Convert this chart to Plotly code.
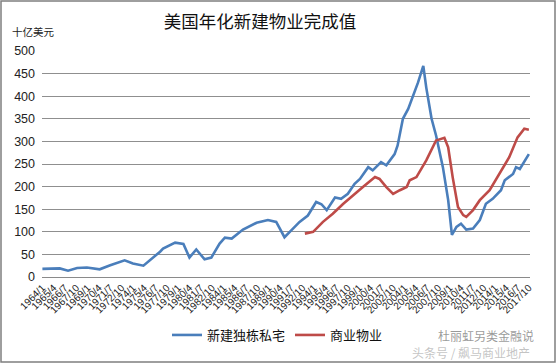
import plotly.graph_objects as go

# 新建独栋私宅 (single-family) readings
house_dates = ["1964-01", "1965-04", "1965-12", "1966-11", "1967-11", "1968-12", "1970-05", "1971-07",
               "1973-02", "1974-01", "1975-03", "1977-01", "1977-05", "1978-09", "1979-08", "1980-04",
               "1981-01", "1981-12", "1982-09", "1983-08", "1984-03", "1984-12", "1986-03", "1987-09",
               "1988-12", "1989-11", "1990-10", "1991-07", "1992-06", "1993-05", "1994-04", "1994-11",
               "1995-06", "1996-05", "1997-01", "1997-10", "1998-07", "1999-02", "2000-01", "2000-07",
               "2001-06", "2002-01", "2002-12", "2003-04", "2003-11", "2004-06", "2004-12", "2005-07",
               "2006-02", "2006-06", "2007-01", "2007-07", "2008-04", "2008-11", "2009-04", "2009-10",
               "2010-04", "2010-11", "2011-08", "2012-05", "2013-01", "2013-10", "2014-09", "2015-02",
               "2016-01", "2016-05", "2016-10", "2017-10"]
house_vals = [18, 19, 19, 14, 20, 21, 17, 26,
              37, 30, 25, 56, 63, 76, 73, 43,
              61, 39, 43, 74, 87, 85, 105, 120,
              126, 122, 88, 103, 122, 136, 166, 161,
              148, 176, 173, 184, 206, 217, 243, 236,
              254, 247, 272, 291, 350, 372, 397, 430,
              467, 419, 350, 313, 243, 170, 93, 111,
              118, 105, 107, 126, 162, 173, 192, 214,
              228, 243, 239, 272]

# 商业物业 (commercial) readings
comm_dates = ["1993-01", "1993-12", "1995-01", "1996-02", "1997-04", "1998-05", "1999-06", "2000-10",
              "2001-04", "2002-01", "2002-10", "2003-07", "2004-04", "2004-08", "2005-05", "2006-06",
              "2007-07", "2008-06", "2008-11", "2009-05", "2009-12", "2010-07", "2010-11", "2011-08",
              "2012-05", "2013-06", "2014-07", "2015-08", "2016-07", "2017-04", "2017-10"]
comm_vals = [96, 100, 122, 140, 162, 181, 199, 221,
             217, 199, 184, 192, 199, 214, 221, 258,
             302, 308, 287, 221, 155, 137, 133, 148,
             170, 192, 228, 265, 309, 328, 326]

tick_labels = ["1964/1", "1965/4", "1966/7", "1967/10", "1969/1", "1970/4", "1971/7", "1972/10",
               "1974/1", "1975/4", "1976/7", "1977/10", "1979/1", "1980/4", "1981/7", "1982/10",
               "1984/1", "1985/4", "1986/7", "1987/10", "1989/1", "1990/4", "1991/7", "1992/10",
               "1994/1", "1995/4", "1996/7", "1997/10", "1999/1", "2000/4", "2001/7", "2002/10",
               "2004/1", "2005/4", "2006/7", "2007/10", "2009/1", "2010/4", "2011/7", "2012/10",
               "2014/1", "2015/4", "2016/7", "2017/10"]
tick_vals = ["%s-%02d-01" % (t.split("/")[0], int(t.split("/")[1])) for t in tick_labels]

CJK = "Noto Sans CJK SC"

fig = go.Figure()
fig.add_trace(go.Scatter(x=house_dates, y=house_vals, mode="lines", name="新建独栋私宅",
                         line=dict(color="#4A7EBB", width=2.6)))
fig.add_trace(go.Scatter(x=comm_dates, y=comm_vals, mode="lines", name="商业物业",
                         line=dict(color="#BE4B48", width=2.6)))

L, R, T, B = 42, 26, 51, 86
W, H = 556, 363
pw, ph = W - L - R, H - T - B

fig.update_layout(
    width=W, height=H,
    margin=dict(l=L, r=R, t=T, b=B, autoexpand=False),
    paper_bgcolor="white", plot_bgcolor="white",
    title=dict(text="美国年化新建物业完成值", x=260 / W, xanchor="center", y=1 - 22 / H, yanchor="middle",
               font=dict(family=CJK, size=17.5, color="#111111")),
    showlegend=True,
    legend=dict(orientation="h", x=(167 - L) / pw, xanchor="left", y=(277 - 335) / ph, yanchor="middle",
                font=dict(family=CJK, size=13, color="#111111"), bgcolor="rgba(0,0,0,0)",
                itemwidth=30, tracegroupgap=0),
    font=dict(family="Liberation Sans", color="#222222"),
)

fig.update_xaxes(type="date", range=["1963-12-16", "2017-11-16"], tickmode="array",
                 tickvals=tick_vals, ticktext=tick_labels, tickangle=-45, automargin=False,
                 tickfont=dict(size=10, family="Liberation Sans", color="#222222"),
                 showgrid=False, showline=True, linecolor="#8a8a8a", linewidth=1,
                 ticks="", zeroline=False)
fig.update_yaxes(range=[0, 500], dtick=50, showgrid=True, gridcolor="#8f8f8f", gridwidth=1,
                 automargin=False,
                 tickfont=dict(size=12.5, family="Liberation Sans", color="#222222"),
                 ticks="", showline=False, zeroline=False, ticklabelstandoff=6)

# unit label
fig.add_annotation(text="十亿美元", xref="paper", yref="paper", x=(10 - L) / pw, y=1 + (T - 31) / ph,
                   xanchor="left", yanchor="middle", showarrow=False,
                   font=dict(family=CJK, size=10.5, color="#222222"))

# watermark
fig.add_annotation(text="杜丽虹另类金融说", xref="paper", yref="paper", x=(436 - L) / pw, y=(277 - 335) / ph,
                   xanchor="left", yanchor="middle", showarrow=False,
                   font=dict(family=CJK, size=12, color="rgba(120,120,120,0.75)"))
fig.add_annotation(text="头条号 / 飙马商业地产", xref="paper", yref="paper", x=(410 - L) / pw, y=(277 - 352) / ph,
                   xanchor="left", yanchor="middle", showarrow=False,
                   font=dict(family=CJK, size=12, color="rgba(170,170,170,0.7)"))

# outer border
fig.add_shape(type="rect", xref="paper", yref="paper",
              x0=(1 - L) / pw, x1=1 + (R - 1) / pw, y0=-(B - 1) / ph, y1=1 + (T - 1) / ph,
              line=dict(color="#7f7f7f", width=1.5), fillcolor="rgba(0,0,0,0)", layer="above")

fig.write_html("out.html", config={"displayModeBar": False},
               post_script="document.body.style.margin='0';document.body.style.overflow='hidden';")
